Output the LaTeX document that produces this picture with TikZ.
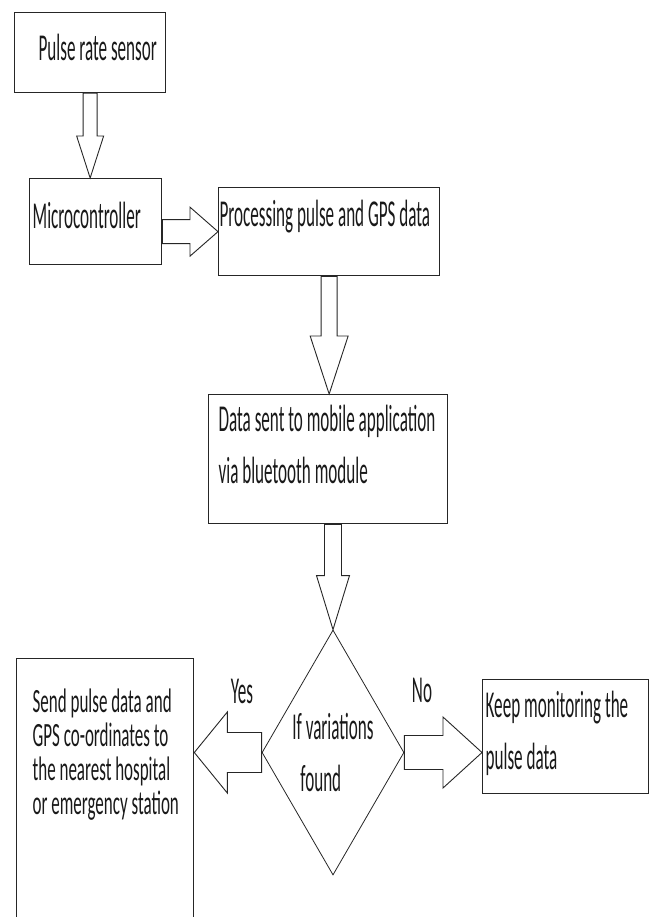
\documentclass[tikz,border=0pt]{standalone}
\usepackage{fontspec}
\setmainfont{Carlito}[FakeStretch=0.45]
\newfontfamily\sendfont{Carlito}[FakeStretch=0.5]
\usetikzlibrary{calc,shapes.geometric}

\tikzset{
  box/.style={draw=black!85, line width=1.3pt, inner sep=0pt, align=left,
    anchor=north west, text=black!90},
  indent/.style={execute at begin node={\leftskip=#1\relax
    \rightskip=0pt plus 1fil minus 80pt\relax \spaceskip=0pt\relax \xspaceskip=0pt\relax}},
  decision/.style={diamond, draw=black!85, line width=0.8pt, inner sep=0pt,
    minimum width=142pt, minimum height=245pt},
  hollow arrow/.style={draw=black!85, line width=0.9pt, fill=white},
  answer/.style={anchor=base, text=black!90}
}

% fat open arrow: start, end, half shaft, half head, head length
\newcommand{\fatarrow}[5]{%
  \coordinate (fb) at ($(#2)!#5!(#1)$);
  \draw[hollow arrow] ($(#1)!#3!90:(#2)$) -- ($(fb)!#3!90:(#2)$) -- ($(fb)!#4!90:(#2)$)
    -- (#2) -- ($(fb)!#4!-90:(#2)$) -- ($(fb)!#3!-90:(#2)$) -- ($(#1)!#3!-90:(#2)$) -- cycle;
}

\begin{document}
\begin{tikzpicture}[x=1pt,y=-1pt,font=\fontsize{38}{52}\selectfont]
  \useasboundingbox (0,0) rectangle (654,917);
  \clip (0,0) rectangle (654,917);

  \node[box, indent=24pt, text width=151pt, text height=48pt, text depth=32pt]
    (sensor) at (14,12) {Pulse rate sensor};
  \node[box, indent=3pt, text width=132pt, text height=50pt, text depth=36pt]
    (micro) at (29,178) {Microcontroller};
  \node[box, indent=1pt, text width=221pt, text height=39pt, text depth=49pt]
    (proc) at (218,187) {Processing pulse and GPS data};
  \node[box, indent=10pt, text width=239pt, text height=37pt, text depth=92pt]
    (data) at (208,394) {Data sent to mobile application\\via bluetooth module};
  \node[box, indent=16pt, text width=177pt, text height=54pt, text depth=218pt,
    font=\sendfont\fontsize{34}{34}\selectfont]
    (send) at (16,658) {Send pulse data and\\GPS co-ordinates to\\the nearest hospital\\or emergency station};
  \node[box, indent=3pt, text width=166pt, text height=38pt, text depth=76pt]
    (keep) at (482,679) {Keep monitoring the\\pulse data};

  \node[decision] (dec) at (333,752.5) {};
  \node[align=left, text=black!90] (dectext) at (dec) {If variations\\\hspace*{8pt}found};

  \node[answer] (yes) at (242,703) {Yes};
  \node[answer] (no) at (422,702) {No};

  \coordinate (a1) at (sensor.south |- micro.north);
  \coordinate (a2) at (micro.east |- proc.west);
  \coordinate (a3) at (proc.south |- data.north);
  \coordinate (a4) at (dec.north |- data.south);
  \coordinate (a5) at (send.east |- dec.west);
  \coordinate (a6) at (keep.west |- dec.east);

  \foreach \s/\e/\w/\h/\l in {sensor.south/a1/7pt/13.5pt/42pt, a2/proc.west/12pt/24.5pt/28pt,
      proc.south/a3/8pt/19pt/58pt, a4/dec.north/8.5pt/16.5pt/54pt,
      dec.west/a5/20pt/40.5pt/33pt, dec.east/a6/17pt/35.5pt/39pt}
    \fatarrow{\s}{\e}{\w}{\h}{\l};
\end{tikzpicture}
\end{document}
